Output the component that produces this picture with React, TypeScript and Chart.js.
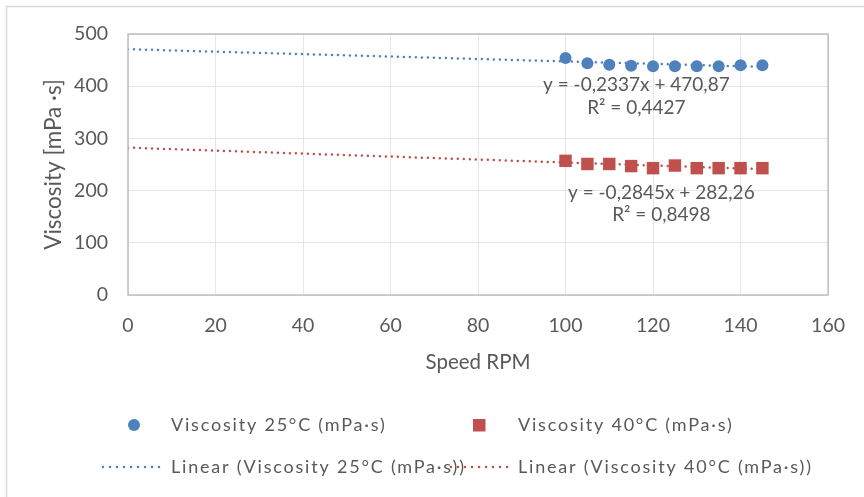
import React, { useEffect, useRef } from 'react';
import { Chart, registerables } from 'chart.js';

Chart.register(...registerables);

// ---- data ----
const speedRpm = [100, 105, 110, 115, 120, 125, 130, 135, 140, 145];
const visc25 = [454, 444, 441, 439, 438, 438, 438, 438, 440, 440];
const visc40 = [257, 251, 251, 247, 243, 248, 243, 243, 243, 243];

// trendline coefficients shown on the chart
const trendSlopes = [-0.2337, -0.2845];
const trendIntercepts = [470.87, 282.26];
const trendFrom = [0, 0];
const trendTo = [145, 145];

const eq25Lines = ['y = -0,2337x + 470,87', 'R² = 0,4427'];
const eq40Lines = ['y = -0,2845x + 282,26', 'R² = 0,8498'];
// anchor (data units) of each equation line
const eq25AnchorX = [116.2, 116.2];
const eq25AnchorY = [402, 358];
const eq40AnchorX = [121.9, 121.9];
const eq40AnchorY = [195, 153];

const seriesLabels = ['Viscosity 25°C (mPa·s)', 'Viscosity 40°C (mPa·s)'];
const trendLabels = ['Linear (Viscosity 25°C (mPa·s))', 'Linear (Viscosity 40°C (mPa·s))'];

const BLUE = '#4F81BD';
const RED = '#C0504D';
const TEXT = '#595959';
const FONT = 'Lato, "Open Sans", sans-serif';

function trendPoints(i: number) {
  return [trendFrom[i], trendTo[i]].map((x) => ({ x, y: trendSlopes[i] * x + trendIntercepts[i] }));
}

const framePlugin = {
  id: 'frame',
  beforeDraw(chart: any) {
    const { ctx, width, height } = chart;
    ctx.save();
    ctx.fillStyle = '#ffffff';
    ctx.fillRect(0, 0, width, height);
    ctx.strokeStyle = '#D9D9D9';
    ctx.lineWidth = 1.5;
    ctx.strokeRect(6.5, 6.5, width + 20, height + 20);
    ctx.restore();
  },
  afterDraw(chart: any) {
    const { ctx, chartArea } = chart;
    ctx.save();
    ctx.strokeStyle = '#BFBFBF';
    ctx.lineWidth = 1.5;
    ctx.strokeRect(chartArea.left, chartArea.top, chartArea.right - chartArea.left, chartArea.bottom - chartArea.top);
    ctx.restore();
  },
};

const equationPlugin = {
  id: 'equations',
  afterDatasetsDraw(chart: any) {
    const { ctx, scales } = chart;
    ctx.save();
    ctx.fillStyle = TEXT;
    ctx.font = `19px ${FONT}`;
    ctx.textAlign = 'center';
    ctx.textBaseline = 'middle';
    const draw = (lines: string[], xs: number[], ys: number[]) => {
      lines.forEach((t, i) => {
        ctx.fillText(t, scales.x.getPixelForValue(xs[i]), scales.y.getPixelForValue(ys[i]));
      });
    };
    draw(eq25Lines, eq25AnchorX, eq25AnchorY);
    draw(eq40Lines, eq40AnchorX, eq40AnchorY);
    ctx.restore();
  },
};

const legendPlugin = {
  id: 'customLegend',
  afterDraw(chart: any) {
    const { ctx } = chart;
    ctx.save();
    ctx.fillStyle = TEXT;
    ctx.font = `18px ${FONT}`;
    (ctx as any).letterSpacing = '1.8px';
    ctx.textAlign = 'left';
    ctx.textBaseline = 'middle';
    const row1 = 425;
    const row2 = 467;
    // markers
    ctx.fillStyle = BLUE;
    ctx.beginPath();
    ctx.arc(134, row1, 6, 0, Math.PI * 2);
    ctx.fill();
    ctx.fillStyle = RED;
    ctx.fillRect(473, row1 - 6, 12.5, 12.5);
    // dotted lines
    const dots = (x0: number, x1: number, color: string) => {
      ctx.strokeStyle = color;
      ctx.lineWidth = 2.5;
      ctx.lineCap = 'round';
      ctx.setLineDash([0, 7]);
      ctx.beginPath();
      ctx.moveTo(x0, row2);
      ctx.lineTo(x1, row2);
      ctx.stroke();
      ctx.setLineDash([]);
    };
    dots(103, 164, BLUE);
    dots(451, 509, RED);
    ctx.fillStyle = TEXT;
    ctx.fillText(seriesLabels[0], 171, row1);
    ctx.fillText(seriesLabels[1], 518, row1);
    ctx.fillText(trendLabels[0], 171, row2);
    ctx.fillText(trendLabels[1], 518, row2);
    ctx.restore();
  },
};

export default function App() {
  const ref = useRef<HTMLCanvasElement | null>(null);

  useEffect(() => {
    if (!ref.current) return;
    const chart = new Chart(ref.current, {
      type: 'scatter',
      data: {
        datasets: [
          {
            label: seriesLabels[0],
            data: speedRpm.map((x, i) => ({ x, y: visc25[i] })),
            pointStyle: 'circle',
            pointRadius: 6,
            backgroundColor: BLUE,
            borderColor: BLUE,
            borderWidth: 0,
            order: 1,
          },
          {
            label: seriesLabels[1],
            data: speedRpm.map((x, i) => ({ x, y: visc40[i] })),
            pointStyle: 'rect',
            pointRadius: 8.8,
            backgroundColor: RED,
            borderColor: RED,
            borderWidth: 0,
            order: 1,
          },
          {
            type: 'line',
            label: trendLabels[0],
            data: trendPoints(0),
            borderColor: BLUE,
            borderWidth: 2.5,
            borderDash: [0, 6],
            borderCapStyle: 'round',
            pointRadius: 0,
            fill: false,
            order: 2,
          } as any,
          {
            type: 'line',
            label: trendLabels[1],
            data: trendPoints(1),
            borderColor: RED,
            borderWidth: 2.5,
            borderDash: [0, 6],
            borderCapStyle: 'round',
            pointRadius: 0,
            fill: false,
            order: 2,
          } as any,
        ],
      },
      options: {
        animation: false,
        responsive: true,
        maintainAspectRatio: false,
        layout: { padding: { left: 0, top: 34, right: 35, bottom: 122 } },
        plugins: {
          legend: { display: false },
          tooltip: { enabled: false },
        },
        scales: {
          x: {
            type: 'linear',
            min: 0,
            max: 160,
            ticks: { stepSize: 20, color: TEXT, font: { family: FONT, size: 19.5 }, padding: 19 },
            grid: { color: '#E6E6E6', drawTicks: false, lineWidth: 1 },
            border: { display: false },
            title: {
              display: true,
              text: 'Speed RPM',
              color: TEXT,
              font: { family: FONT, size: 20.5 },
              padding: { top: 0, bottom: 0 },
            },
            afterFit: (s: any) => {
              s.height = 80;
            },
          },
          y: {
            type: 'linear',
            min: 0,
            max: 500,
            ticks: { stepSize: 100, color: TEXT, font: { family: FONT, size: 19.5 }, padding: 20 },
            grid: { color: '#E6E6E6', drawTicks: false, lineWidth: 1 },
            border: { display: false },
            title: {
              display: true,
              text: 'Viscosity [mPa ·s]',
              color: TEXT,
              font: { family: FONT, size: 22.5 },
              padding: { top: 40, bottom: 0 },
            },
            afterFit: (s: any) => {
              s.width = 128;
            },
          },
        },
      },
      plugins: [framePlugin, equationPlugin, legendPlugin],
    });
    return () => chart.destroy();
  }, []);

  return (
    <div style={{ position: 'absolute', left: 0, top: 0, width: 864, height: 497 }}>
      <canvas ref={ref} />
    </div>
  );
}
